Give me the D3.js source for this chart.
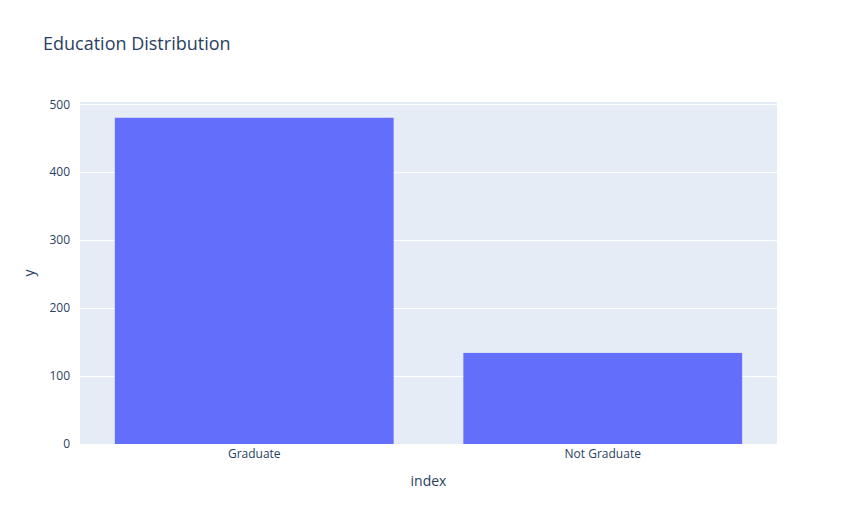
<!DOCTYPE html>
<html><head><meta charset="utf-8">
<script src="https://cdn.jsdelivr.net/npm/d3@7"></script>
<style>body{margin:0;background:#fff}text{font-family:"Open Sans",Arial,sans-serif}</style>
</head><body><svg id="c" width="857" height="525"></svg>
<script>
const categories = ["Graduate", "Not Graduate"];
const values = [480, 134];
const yTicks = [0, 100, 200, 300, 400, 500];

const svg = d3.select("#c");
const m = {l: 80, r: 80, t: 102, b: 81};
const W = 857, H = 525;
const x = d3.scaleBand().domain(categories).range([m.l, W - m.r]).paddingInner(0.2).paddingOuter(0.1);
const y = d3.scaleLinear().domain([0, 503.2]).range([H - m.b, m.t]);

svg.append("rect").attr("x", m.l).attr("y", m.t).attr("width", W - m.l - m.r)
  .attr("height", H - m.t - m.b).attr("fill", "#e5ecf6");

const ya = svg.append("g").attr("transform", `translate(${m.l},0)`)
  .call(d3.axisLeft(y).tickValues(yTicks).tickSize(-(W - m.l - m.r)).tickPadding(10));
ya.select(".domain").remove();
ya.selectAll("line").attr("stroke", "#fff").attr("stroke-width", 1);
ya.selectAll("text").attr("fill", "#2a3f5f").style("font-size", "12px");

svg.selectAll(".bar").data(values).join("rect")
  .attr("x", (d, i) => x(categories[i])).attr("width", x.bandwidth())
  .attr("y", d => y(d)).attr("height", d => y(0) - y(d)).attr("fill", "#636efa");

const xa = svg.append("g").attr("transform", `translate(0,${H - m.b})`)
  .call(d3.axisBottom(x).tickSize(0).tickPadding(5));
xa.select(".domain").remove();
xa.selectAll("text").attr("fill", "#2a3f5f").style("font-size", "12px");

svg.append("text").attr("x", 43).attr("y", 50).text("Education Distribution")
  .attr("fill", "#2a3f5f").style("font-size", "18px");
svg.append("text").attr("x", (m.l + W - m.r) / 2).attr("y", 486).attr("text-anchor", "middle")
  .text("index").attr("fill", "#2a3f5f").style("font-size", "14px");
svg.append("text").attr("transform", `translate(34,${(m.t + H - m.b) / 2}) rotate(-90)`)
  .attr("text-anchor", "middle").text("y").attr("fill", "#2a3f5f").style("font-size", "14px");
</script></body></html>
